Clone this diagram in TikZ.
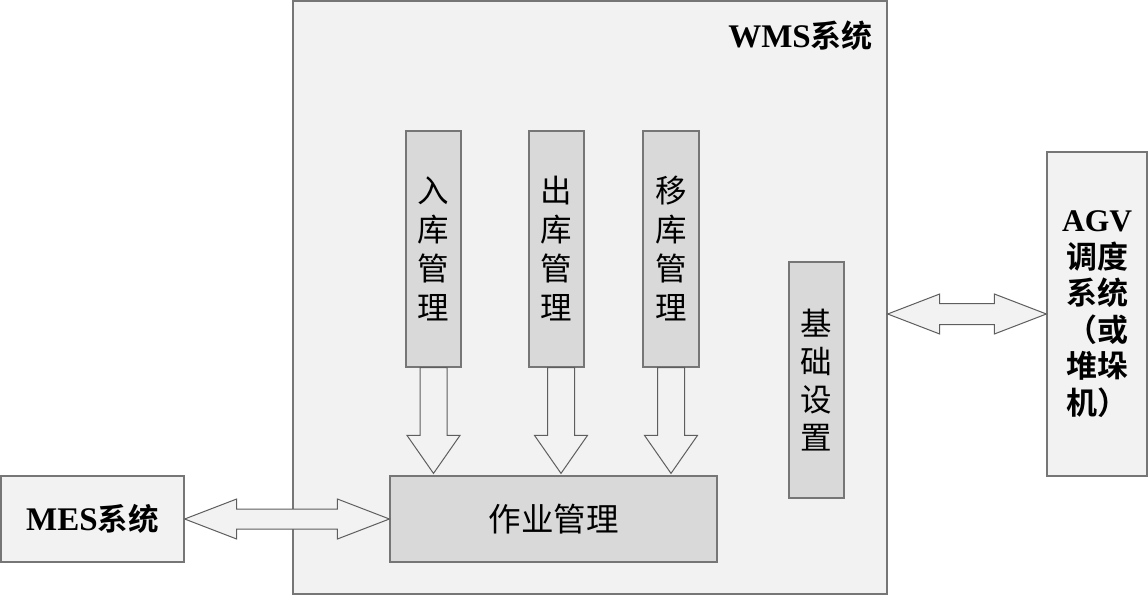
\documentclass[tikz,border=0pt]{standalone}
\usepackage{fontspec}
\setmainfont{Liberation Serif}
\newfontfamily\cjk{Noto Sans CJK SC}[BoldFont={Noto Sans CJK SC Bold}]
\usetikzlibrary{calc}
\definecolor{outerfill}{HTML}{F2F2F2}
\definecolor{innerfill}{HTML}{D9D9D9}
\definecolor{edgegray}{HTML}{767676}
\definecolor{arrgray}{HTML}{5E5E5E}
\tikzset{
  outerbox/.style={draw=edgegray, line width=1.3pt, fill=outerfill, inner sep=0pt},
  innerbox/.style={draw=edgegray, line width=1.2pt, fill=innerfill, inner sep=0pt},
  vtext/.style={align=center, font=\cjk\fontsize{31.5}{39}\selectfont},
  blockarrow/.style={draw=arrgray, line width=1pt, fill=outerfill, line join=miter},
}
\newcommand{\cjkb}[2]{{\cjk\bfseries\fontsize{#1}{#1}\selectfont #2}}
\begin{document}
\begin{tikzpicture}[x=1pt,y=-1pt]
\useasboundingbox (0,0) rectangle (1148,596);
% WMS frame
\node[outerbox, minimum width=594pt, minimum height=593pt] (wms) at (590,297.5) {};
\node[anchor=east, inner sep=0pt, font=\fontsize{33}{36}\selectfont\bfseries] (wmslabel) at (873,36) {WMS\cjkb{31}{系统}};
% external systems
\node[outerbox, minimum width=183pt, minimum height=86pt, font=\fontsize{33}{36}\selectfont\bfseries] (mes) at (92.5,519) {MES\cjkb{30.5}{系统}};
\node[outerbox, minimum width=100pt, minimum height=324pt, align=center, font=\fontsize{31.5}{36.5}\selectfont\bfseries] (agv) at (1097,314) {AGV\\\cjkb{31}{调度}\\\cjkb{31}{系统}\\\cjkb{31}{（或}\\\cjkb{31}{堆垛}\\\cjkb{31}{机）}};
% inner modules
\node[innerbox, minimum width=327pt, minimum height=86pt, font=\cjk\fontsize{32.5}{36}\selectfont] (job) at (553.5,519) {作业管理};
\node[innerbox, minimum width=55pt, minimum height=236pt, vtext] (in) at (433.5,249) {入\\库\\管\\理};
\node[innerbox, minimum width=55pt, minimum height=236pt, vtext] (out) at (556.5,249) {出\\库\\管\\理};
\node[innerbox, minimum width=56pt, minimum height=236pt, vtext] (move) at (671,249) {移\\库\\管\\理};
\node[innerbox, minimum width=55pt, minimum height=236pt, font=\cjk\fontsize{31.5}{38}\selectfont, align=center] (base) at (816.5,380) {基\\础\\设\\置};
% down block arrows
\foreach \src/\dx in {in/0pt, out/4.5pt, move/0pt}{
  \draw[blockarrow] let \p1=(\src.south), \p2=(job.north) in
    (\x1+\dx-13.5pt,\y1) -- (\x1+\dx-13.5pt,\y2+40pt) -- (\x1+\dx-26.5pt,\y2+40pt) -- (\x1+\dx,\y2+2pt)
    -- (\x1+\dx+26.5pt,\y2+40pt) -- (\x1+\dx+13.5pt,\y2+40pt) -- (\x1+\dx+13.5pt,\y1) -- cycle;
}
% MES <-> job
\draw[blockarrow] let \p1=(mes.east), \p2=(job.west) in
  (\x1,\y1) -- (\x1+52pt,\y1+20pt) -- (\x1+52pt,\y1+10pt) -- (\x2-52pt,\y1+10pt) -- (\x2-52pt,\y1+20pt)
  -- (\x2,\y1) -- (\x2-52pt,\y1-20pt) -- (\x2-52pt,\y1-10pt) -- (\x1+52pt,\y1-10pt) -- (\x1+52pt,\y1-20pt) -- cycle;
% WMS <-> AGV
\coordinate (wmsr) at (agv.west -| wms.east);
\draw[blockarrow] let \p1=(wmsr), \p2=(agv.west) in
  (\x1,\y1) -- (\x1+52pt,\y1+20pt) -- (\x1+52pt,\y1+10.5pt) -- (\x2-52pt,\y1+10.5pt) -- (\x2-52pt,\y1+20pt)
  -- (\x2,\y1) -- (\x2-52pt,\y1-20pt) -- (\x2-52pt,\y1-10.5pt) -- (\x1+52pt,\y1-10.5pt) -- (\x1+52pt,\y1-20pt) -- cycle;
\end{tikzpicture}
\end{document}
